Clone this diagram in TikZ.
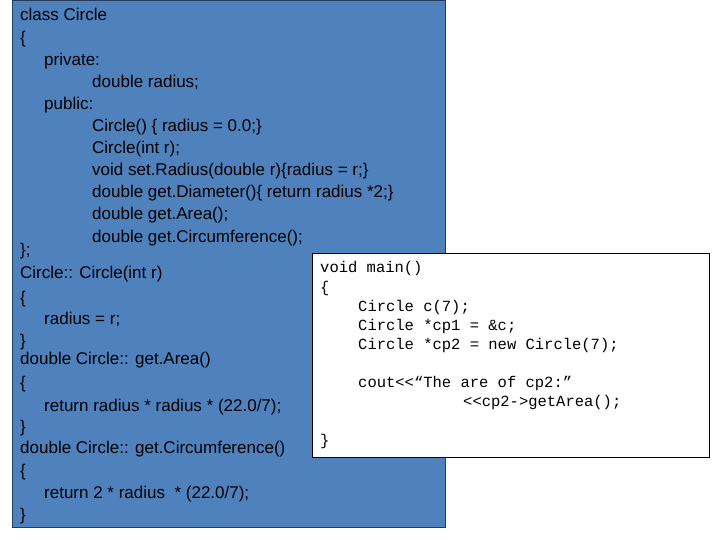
\documentclass[tikz,border=0pt]{standalone}
\usepackage{fontspec}
\setmainfont{Liberation Sans}
\newfontfamily\codefont{Liberation Mono}
\begin{document}
\begin{tikzpicture}[x=1pt,y=-1pt,
  bl/.style={anchor=base west,inner sep=0pt,font=\fontsize{17}{20}\selectfont},
  cl/.style={anchor=base west,inner sep=0pt,font=\codefont\fontsize{15.5}{18}\selectfont}]
\useasboundingbox (0,0) rectangle (720,540);
\fill[fill=white] (0,0) rectangle (720,540);
\draw[fill={rgb,255:red,79;green,129;blue,189}, draw={rgb,255:red,40;green,60;blue,90}] (12,0) rectangle (445,527);
\node[bl] (l1) at (20,21) {class Circle};
\node[bl] (l2) at (20,44) {\{};
\node[bl] (l3) at (44,66) {private:};
\node[bl] (l4) at (92,88) {double radius;};
\node[bl] (l5) at (44,110) {public:};
\node[bl] (l6) at (92,132) {Circle() \{ radius = 0.0;\}};
\node[bl] (l7) at (92,154) {Circle(int r);};
\node[bl] (l8) at (92,176) {void set.Radius(double r)\{radius = r;\}};
\node[bl] (l9) at (92,198) {double get.Diameter()\{ return radius *2;\}};
\node[bl] (l10) at (92,220) {double get.Area();};
\node[bl] (l11) at (92,242) {double get.Circumference();};
\node[bl] (l12) at (20,255) {\};};
\node[bl] (l13) at (20,278) {Circle:: Circle(int r)};
\node[bl] (l14) at (20,303) {\{};
\node[bl] (l15) at (44,324) {radius = r;};
\node[bl] (l16) at (20,346) {\}};
\node[bl] (l17) at (20,364) {double Circle:: get.Area()};
\node[bl] (l18) at (20,388) {\{};
\node[bl] (l19) at (44,411) {return radius * radius * (22.0/7);};
\node[bl] (l20) at (20,432) {\}};
\node[bl] (l21) at (20,453) {double Circle:: get.Circumference()};
\node[bl] (l22) at (20,476) {\{};
\node[bl] (l23) at (44,498) {return 2 * radius \ * (22.0/7);};
\node[bl] (l24) at (20,520) {\}};
\draw[fill=white,draw=black] (312,253) rectangle (709,457);
\node[cl] (m1) at (320,272) {void main()};
\node[cl] (m2) at (320,292) {\{};
\node[cl] (m3) at (358,311) {Circle c(7);};
\node[cl] (m4) at (358,330) {Circle *cp1 = \&c;};
\node[cl] (m5) at (358,349) {Circle *cp2 = new Circle(7);};
\node[cl] (m6) at (358,387) {cout<<“The are of cp2:”};
\node[cl] (m7) at (463,406) {<<cp2->getArea();};
\node[cl] (m8) at (320,445) {\}};
\end{tikzpicture}
\end{document}
